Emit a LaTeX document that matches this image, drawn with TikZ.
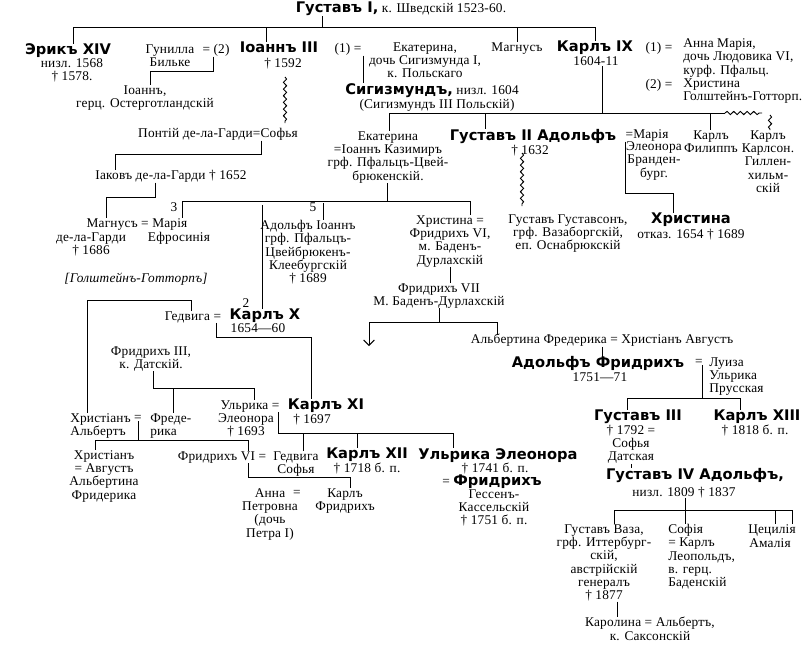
\documentclass[tikz,border=0pt]{standalone}
\usepackage{fontspec}
\setmainfont{Liberation Serif}[LetterSpace=1.5]
\newfontfamily\heavyfont{DejaVu Sans}
\newcommand\royalfont{\heavyfont\bfseries\fontsize{11}{12}\selectfont}
\newcommand\lineagefont{\fontsize{10}{10}\selectfont}
\usetikzlibrary{arrows.meta, decorations.pathmorphing}

\begin{document}
\begin{tikzpicture}[
    x=0.75pt, y=-0.75pt,
    txt/.style={inner sep=0pt, anchor=north, align=center, font=\lineagefont},
    ltxt/.style={txt, anchor=north west, align=left},
    royal/.style={inner sep=0pt, anchor=north, font=\royalfont},
    wed/.style={txt, anchor=center},
    link/.style={draw=black, line width=0.7pt},
    wave/.style={link, decorate, decoration={snake, amplitude=1.2pt, segment length=5pt}},
    arrow/.style={link, -{Straight Barb[length=4pt]}}
]
\fill[white] (0,0) rectangle (808,644);
\useasboundingbox (0,0) rectangle (808,644);

\node[txt] (g1) at (401,2) {{\royalfont Густавъ I,} к. Шведскій 1523-60.};

\node[royal] (erik) at (68,43.5) {Эрикъ XIV};
\node[txt] (erikd) at (72,58) {низл. 1568\\† 1578.};
\node[txt] (gunilla) at (170,44) {Гунилла\\Бильке};
\node[txt] (g2eq) at (216,44) {= (2)};
\node[royal] (ioann3) at (279,42) {Іоаннъ III};
\node[txt] (d1592) at (283,57.5) {† 1592};
\node[txt] (i1eq) at (348,43) {(1) =};
\node[txt] (ekat1) at (425,42) {Екатерина,\\дочь Сигизмунда I,\\к. Польскаго};
\node[txt] (magnus) at (517,42) {Магнусъ};
\node[royal] (karl9) at (595,41) {Карлъ IX};
\node[txt] (karl9d) at (596,56.5) {1604-11};
\node[txt] (k9eq1) at (659,42) {(1) =};
\node[ltxt] (annaM) at (683,38.5) {Анна Марія,\\дочь Людовика VI,\\курф. Пфальц.};
\node[txt] (k9eq2) at (659,78.5) {(2) =};
\node[ltxt] (christH) at (683,78.5) {Христина\\Голштейнъ-Готторп.};

\node[txt] (ioannO) at (145,85) {Іоаннъ,\\герц. Остерготландскій};
\node[txt] (sigism) at (432,83) {{\royalfont Сигизмундъ,} низл. 1604};
\node[txt] (sigismd) at (437,98.5) {(Сигизмундъ III Польскій)};

\node[txt] (pontus) at (218,128) {Понтій де-ла-Гарди=Софья};
\node[txt] (iakov) at (171,170) {Іаковъ де-ла-Гарди † 1652};

\node[txt] (ekat2) at (388,131) {Екатерина\\=Іоаннъ Казимиръ\\грф. Пфальцъ-Цвей-\\брюкенскій.};
\node[royal] (gustav2) at (533,129) {Густавъ II Адольфъ};
\node[txt] (d1632) at (530,144.5) {† 1632};
\node[txt] (mariaEq) at (647,129.5) {=Марія};
\node[txt] (mariaEl) at (654,141.5) {Элеонора\\Бранден-\\бург.};
\node[txt] (karlF) at (711,130) {Карлъ\\Филиппъ};
\node[txt] (karlK) at (768,130) {Карлъ\\Карлсон.\\Гиллен-\\хильм-\\скій};

\node[txt] (gustavson) at (568,214) {Густавъ Густавсонъ,\\грф. Вазаборгскій,\\еп. Оснабрюкскій};
\node[royal] (kristina) at (691,213) {Христина};
\node[txt] (kristd) at (691,228.5) {отказ. 1654 † 1689};

\node[wed] (n3) at (174,207) {3};
\node[wed] (n5) at (313,207) {5};
\node[wed] (n2) at (246,303) {2};
\node[txt] (magnusG) at (137,218) {Магнусъ = Марія};
\node[txt] (magnusd) at (91,232) {де-ла-Гарди\\† 1686};
\node[txt] (mariaF) at (179,232) {Ефросинія};
\node[txt] (adolfJ) at (308,220) {Адольфъ Іоаннъ\\грф. Пфальцъ-\\Цвейбрюкенъ-\\Клеебургскій\\† 1689};
\node[txt] (kristinaB) at (450,215) {Христина =\\Фридрихъ VI,\\м. Баденъ-\\Дурлахскій};
\node[txt] (fr7) at (439,283) {Фридрихъ VII\\М. Баденъ-Дурлахскій};

\node[txt, font=\lineagefont\itshape] (holst) at (136,272.5) {[Голштейнъ-Готторпъ]};
\node[txt] (hedwig) at (193,311) {Гедвига =};
\node[royal] (karl10) at (265,309) {Карлъ X};
\node[txt] (karl10d) at (258,323) {1654—60};
\node[txt] (fred3) at (151,346) {Фридрихъ III,\\к. Датскій.};
\node[txt] (ulrika) at (250,400) {Ульрика =};
\node[txt] (ulrikad) at (246,413.5) {Элеонора\\† 1693};
\node[royal] (karl11) at (326,399) {Карлъ XI};
\node[txt] (karl11d) at (312,413.5) {† 1697};

\node[ltxt] (chrA) at (70,413) {Христіанъ\\Альбертъ};
\node[wed] (caeq) at (138,418) {=};
\node[ltxt] (frederika) at (150,413) {Фреде-\\рика};
\node[txt] (chrAug) at (104,450) {Христіанъ\\= Августъ\\Альбертина\\Фридерика};
\node[txt] (fr6) at (222,451) {Фридрихъ VI =};
\node[txt] (hedSof) at (296,451) {Гедвига\\Софья};
\node[royal] (karl12) at (367,448) {Карлъ XII};
\node[txt] (karl12d) at (367,463) {† 1718 б. п.};
\node[royal] (ulrEl) at (498,448) {Ульрика Элеонора};
\node[txt] (ulrEld) at (495,463) {† 1741 б. п.};
\node[txt] (frH) at (492,474.5) {= {\royalfont Фридрихъ}};
\node[txt] (hessen) at (494,489) {Гессенъ-\\Кассельскій\\† 1751 б. п.};
\node[txt] (annaP) at (270,488) {Анна\\Петровна\\(дочь\\Петра I)};
\node[wed] (apeq) at (297,493) {=};
\node[txt] (karlFr) at (345,488) {Карлъ\\Фридрихъ};

\node[txt] (albertina) at (602,334) {Альбертина Фредерика = Христіанъ Августъ};
\node[royal] (adolfF) at (598,356.5) {Адольфъ Фридрихъ};
\node[wed] (afeq) at (699,362) {=};
\node[ltxt] (luiza) at (709,357) {Луиза\\Ульрика\\Прусская};
\node[txt] (adolfFd) at (600,372) {1751—71};
\node[royal] (gustav3) at (638,410) {Густавъ III};
\node[txt] (gustav3d) at (631,424.5) {† 1792 =\\Софья\\Датская};
\node[royal] (karl13) at (757,410) {Карлъ XIII};
\node[txt] (karl13d) at (755,424.5) {† 1818 б. п.};
\node[royal] (gustav4) at (695,468) {Густавъ IV Адольфъ,};
\node[txt] (gustav4d) at (684,486.5) {низл. 1809 † 1837};
\node[txt] (vasa) at (604,524) {Густавъ Ваза,\\грф. Иттербург-\\скій,\\австрійскій\\генералъ\\† 1877};
\node[ltxt] (sofia) at (668,524) {Софія\\= Карлъ\\Леопольдъ,\\в. герц.\\Баденскій};
\node[txt] (cecil) at (772,524) {Цецилія};
\node[txt] (amalia) at (770,538) {Амалія};
\node[txt] (carolina) at (650,617) {Каролина = Альбертъ,\\к. Саксонскій};

\coordinate (b0l) at (73,27);
\coordinate (b0r) at (595,27);
\coordinate (b0g) at (322,27);
\coordinate (b0i) at (266,27);
\coordinate (b0m) at (517,27);
\coordinate (gb1) at (213,71);
\coordinate (gb2) at (150,71);
\coordinate (sb) at (363,80);
\coordinate (w1) at (285,77);
\coordinate (w2) at (285,123);
\coordinate (pb1) at (261,154);
\coordinate (pb2) at (115,154);
\coordinate (ib1) at (155,197);
\coordinate (ib2) at (106,197);
\coordinate (kb) at (602,113);
\coordinate (kbl) at (389,113);
\coordinate (kbg) at (485,113);
\coordinate (kbf) at (710,113);
\coordinate (kbr) at (725,113);
\coordinate (kbw) at (762,113);
\coordinate (kbk) at (770,115);
\coordinate (mb1) at (625,193);
\coordinate (mb2) at (673,193);
\coordinate (gw1) at (522,153);
\coordinate (gw2) at (522,206);
\coordinate (eb) at (387,201);
\coordinate (ebl) at (182,201);
\coordinate (ebr) at (470,201);
\coordinate (eb2) at (262,205);
\coordinate (eb5) at (323,203);
\coordinate (fbl) at (369,322);
\coordinate (fbr) at (497,322);
\coordinate (fba) at (369,346);
\coordinate (ab) at (702,398);
\coordinate (abl) at (627,398);
\coordinate (abr) at (740,398);
\coordinate (gb4) at (685,510);
\coordinate (gb4l) at (614,510);
\coordinate (gb4c) at (775,510);
\coordinate (gb4r) at (792,510);
\coordinate (vb) at (617,610);
\coordinate (hb1) at (87,300);
\coordinate (hb2) at (191,300);
\coordinate (k10a) at (216,337);
\coordinate (k10b) at (311,337);
\coordinate (f3a) at (153,388);
\coordinate (f3b) at (254,388);
\coordinate (f3c) at (173,388);
\coordinate (k11a) at (278,433);
\coordinate (k11b) at (453,433);
\coordinate (k11c) at (303,433);
\coordinate (k11d) at (357,433);
\coordinate (ca0) at (95,440);
\coordinate (ca1) at (138,440);
\coordinate (ca2) at (248,440);
\coordinate (f6a) at (248,477);
\coordinate (f6b) at (350,477);

\draw[link] (b0g |- g1.south) -- (b0g);
\draw[link] (b0l) -- (b0r);
\draw[link] (b0l) -- (b0l |- erik.north);
\draw[link] (b0i) -- (b0i |- ioann3.north);
\draw[link] (b0m) -- (b0m |- magnus.north);
\draw[link] (b0r) -- (b0r |- karl9.north);
\draw[link] (gb1 |- g2eq.south) -- (gb1) -- (gb2) -- (gb2 |- ioannO.north);
\draw[link] (sb |- i1eq.south) -- (sb |- sigism.north);
\draw[wave] (w1) -- (w2);
\draw[link] (pb1 |- pontus.south) -- (pb1) -- (pb2) -- (pb2 |- iakov.north);
\draw[link] (ib1 |- iakov.south) -- (ib1) -- (ib2) -- (ib2 |- magnusG.north);

\draw[link] (kb |- karl9d.south) -- (kb);
\draw[link] (kbl) -- (kbr);
\draw[wave] (kbr) -- (kbw);
\draw[wave] (kbk) -- (kbk |- karlK.north);
\draw[link] (kbl) -- (kbl |- ekat2.north);
\draw[link] (kbg) -- (kbg |- gustav2.north);
\draw[link] (kbf) -- (kbf |- karlF.north);
\draw[link] (mb1 |- mariaEq.south) -- (mb1) -- (mb2) -- (mb2 |- kristina.north);
\draw[wave] (gw1) -- (gw2);

\draw[link] (eb |- ekat2.south) -- (eb);
\draw[link] (ebl) -- (ebr);
\draw[link] (ebl) -- (ebl |- magnusG.north);
\draw[link] (eb2) -- (eb2 |- karl10.north);
\draw[link] (eb5) -- (eb5 |- adolfJ.north);
\draw[link] (ebr) -- (ebr |- kristinaB.north);
\draw[link] (kristinaB.south) -- (kristinaB.south |- fr7.north);
\draw[link] (fr7.south) -- (fr7.south |- fbl);
\draw[link] (fbl) -- (fbr);
\draw[arrow] (fbl) -- (fba);
\draw[link] (fbr) -- (fbr |- albertina.north);
\draw[link] (albertina.south) -- (albertina.south |- adolfF.north);
\draw[link] (ab |- afeq.south) -- (ab);
\draw[link] (abl) -- (abr);
\draw[link] (abl) -- (abl |- gustav3.north);
\draw[link] (abr) -- (abr |- karl13.north);
\draw[link] (gustav3d.south) -- (gustav3d.south |- gustav4.north);
\draw[link] (gb4 |- gustav4d.south) -- (gb4);
\draw[link] (gb4l) -- (gb4r);
\draw[link] (gb4l) -- (gb4l |- vasa.north);
\draw[link] (gb4) -- (gb4 |- sofia.north);
\draw[link] (gb4c) -- (gb4c |- cecil.north);
\draw[link] (gb4r) -- (gb4r |- cecil.north);
\draw[link] (vb |- vasa.south) -- (vb |- carolina.north);

\draw[link] (hb2 |- hedwig.north) -- (hb2) -- (hb1) -- (hb1 |- chrA.north);
\draw[link] (k10a |- hedwig.south) -- (k10a) -- (k10b) -- (k10b |- karl11.north);
\draw[link] (f3a |- fred3.south) -- (f3a) -- (f3b) -- (f3b |- ulrika.north);
\draw[link] (f3c) -- (f3c |- frederika.north);
\draw[link] (k11a |- ulrika.south) -- (k11a) -- (k11b) -- (k11b |- ulrEl.north);
\draw[link] (k11c) -- (k11c |- hedSof.north);
\draw[link] (k11d) -- (k11d |- karl12.north);
\draw[link] (caeq.south) -- (ca1);
\draw[link] (ca0) -- (ca2);
\draw[link] (ca0) -- (ca0 |- chrAug.north);
\draw[link] (ca2) -- (ca2 |- fr6.north);
\draw[link] (f6a |- fr6.south) -- (f6a) -- (f6b) -- (f6b |- karlFr.north);
\end{tikzpicture}
\end{document}
